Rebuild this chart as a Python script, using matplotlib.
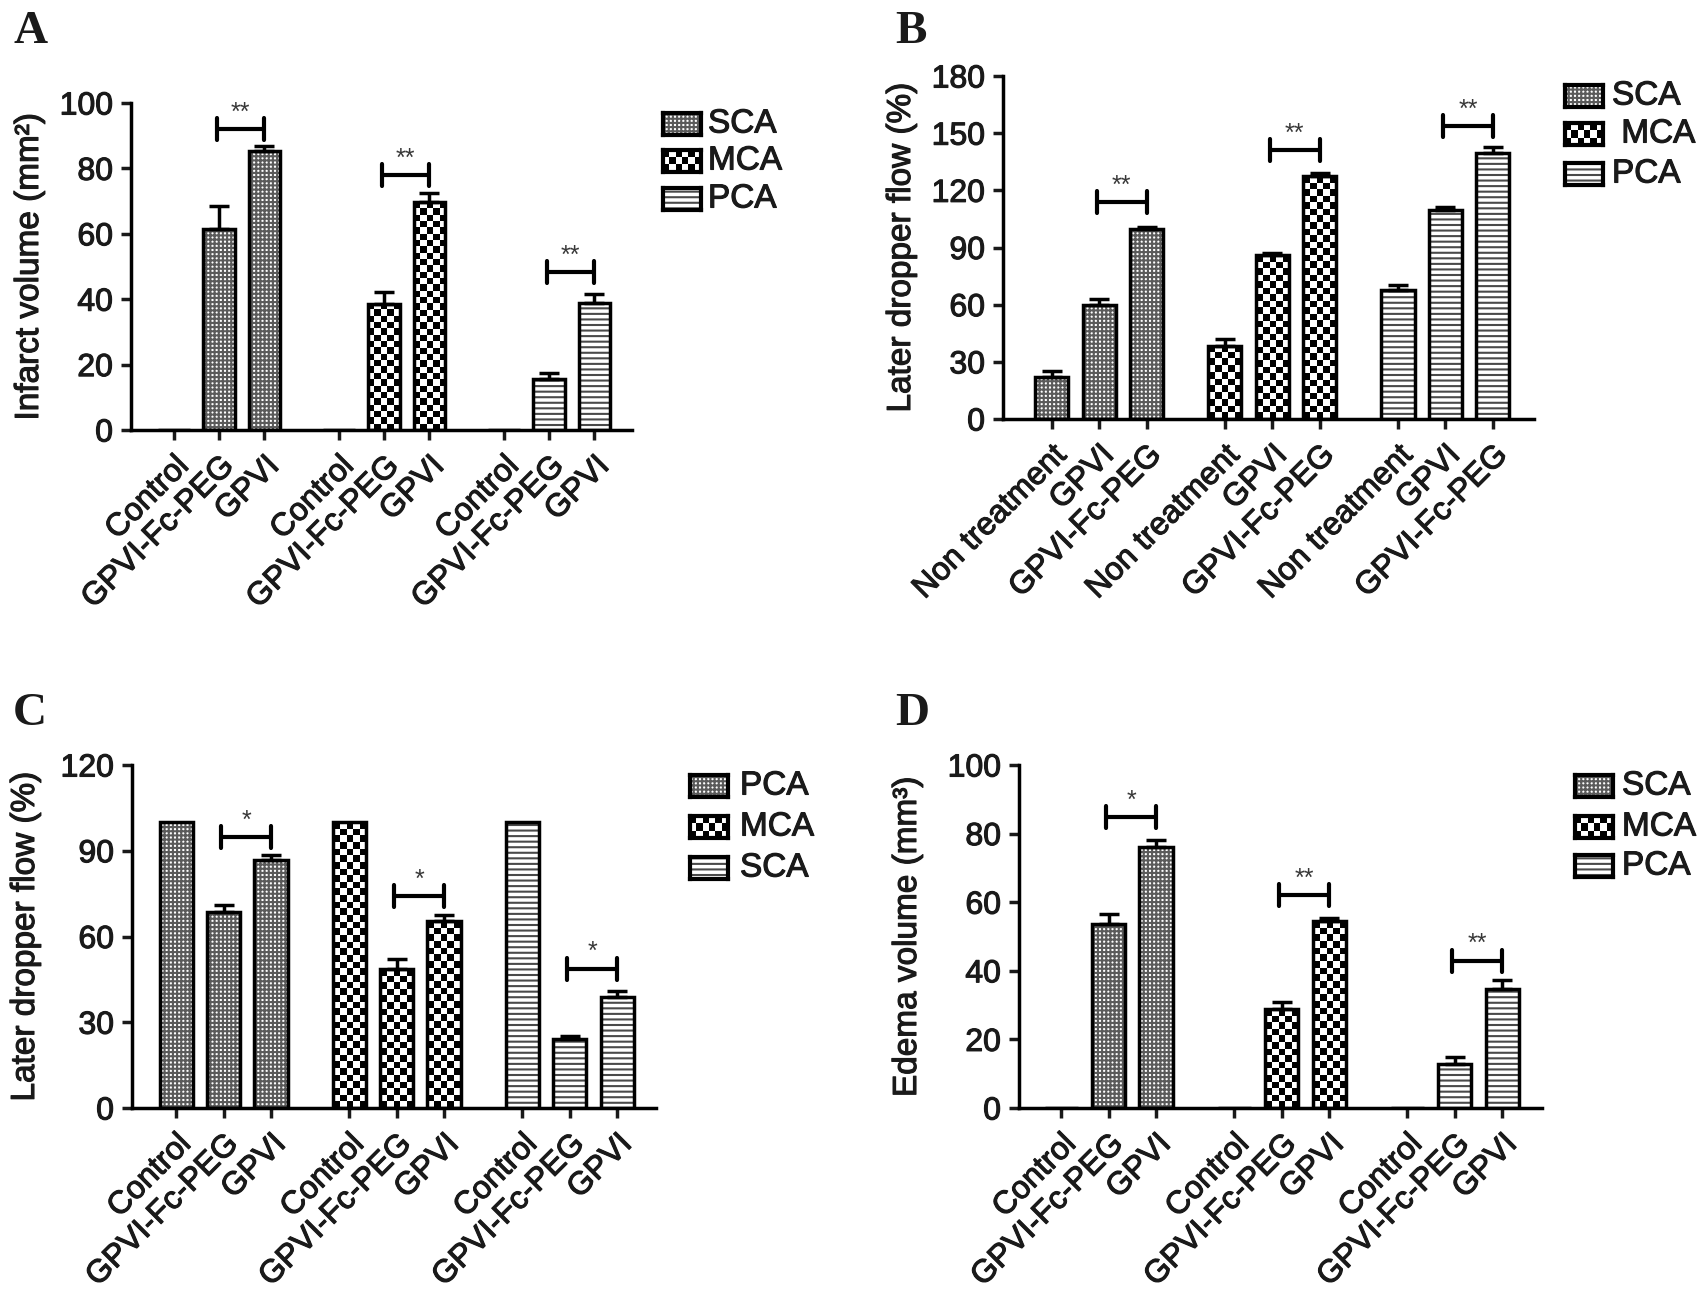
import numpy as np
import matplotlib
matplotlib.use('Agg')
import matplotlib.pyplot as plt
import matplotlib.patheffects as pe
from matplotlib.patches import Rectangle

# ---- data ----
labels_acd = ['Control', 'GPVI-Fc-PEG', 'GPVI']
labels_b = ['Non treatment', 'GPVI', 'GPVI-Fc-PEG']

# A: infarct volume (mm2)
a_sca = [0, 61.5, 85.2];   a_sca_err = [0, 7.0, 1.6]
a_mca = [0, 38.6, 69.7];   a_mca_err = [0, 3.6, 2.8]
a_pca = [0, 15.5, 38.8];   a_pca_err = [0, 1.9, 2.8]
a_sig_y = [92, 78, 48.3];  a_sig = ['**', '**', '**']

# B: later dropper flow (%)
b_sca = [22.3, 60.0, 99.5];   b_sca_err = [3.0, 3.0, 1.5]
b_mca = [38.5, 86.0, 127.5];  b_mca_err = [3.5, 1.2, 1.8]
b_pca = [67.5, 109.5, 139.5]; b_pca_err = [3.0, 1.5, 3.5]
b_sig_y = [114, 141, 154];    b_sig = ['**', '**', '**']

# C: later dropper flow (%), legend order PCA / MCA / SCA
c_pca = [100, 68.7, 86.6]; c_pca_err = [0, 2.2, 1.8]
c_mca = [100, 48.5, 65.4]; c_mca_err = [0, 3.5, 2.0]
c_sca = [100, 24.2, 39.0]; c_sca_err = [0, 1.0, 2.0]
c_sig_y = [94.7, 74, 48.8]; c_sig = ['*', '*', '*']

# D: edema volume (mm3)
d_sca = [0, 53.5, 76.0]; d_sca_err = [0, 3.0, 2.2]
d_mca = [0, 28.8, 54.4]; d_mca_err = [0, 2.2, 0.9]
d_pca = [0, 12.7, 34.6]; d_pca_err = [0, 2.1, 2.6]
d_sig_y = [84.8, 62.2, 43]; d_sig = ['*', '**', '**']

W, H = 1707, 1301
plt.rcParams['font.family'] = ['Liberation Sans', 'DejaVu Sans']
plt.rcParams['hatch.linewidth'] = 1.5
TXT = '#1a1a1a'
HEAVY = [pe.withStroke(linewidth=0.8, foreground=TXT)]
LW = 2.5
BW = 0.7
GSTEP = 3.65
FINE_C = '#5a5a5a'
STRIPE_C = '#4a4a4a'

fig = plt.figure(figsize=(W / 100, H / 100), dpi=100)


def px_axes(l, t, r, b):
    return fig.add_axes([l / W, 1 - b / H, (r - l) / W, (b - t) / H])


def fill_pattern(ax, x, vals, pattern, ppx, ppy):
    if pattern == 'fine':
        ax.bar(x, vals, BW, facecolor='white', edgecolor=FINE_C, hatch='++++', linewidth=0, zorder=2)
    elif pattern == 'stripe':
        ax.bar(x, vals, BW, facecolor='white', edgecolor=STRIPE_C, hatch='---', linewidth=0, zorder=2)
    else:
        for xi, v in zip(x, vals):
            if v <= 0:
                continue
            cols = 5
            cell = BW * ppx / cols
            rows = max(1, int(round(v * ppy / cell)))
            img = np.indices((rows, cols)).sum(axis=0) % 2
            ax.imshow(img, cmap='gray', vmin=0, vmax=1, aspect='auto', interpolation='nearest',
                      extent=(xi - BW / 2, xi + BW / 2, 0, v), zorder=2)
    ax.bar(x, vals, BW, facecolor='none', edgecolor='black', linewidth=LW, zorder=3)


def panel(rect, xlim, ymax, ystep, series, patterns, tick_labels, ylabel, label_dx, sig_y, sig):
    l, t, r, b = rect
    ax = px_axes(*rect)
    ppx = (r - l) / (xlim[1] - xlim[0])
    ppy = (b - t) / ymax
    ticks = []
    for g, ((vals, errs), pat) in enumerate(zip(series, patterns)):
        x = g * GSTEP + np.arange(3)
        vals = np.array(vals, float)
        errs = np.array(errs, float)
        ticks.extend(x)
        fill_pattern(ax, x, vals, pat, ppx, ppy)
        m = errs > 0
        ax.errorbar(x[m], vals[m], yerr=[np.zeros(m.sum()), errs[m]], fmt='none', ecolor='black',
                    elinewidth=LW, capsize=7, capthick=LW, zorder=4)
        # significance bracket
        x1, x2 = x[1] - 0.05, x[2]
        y = sig_y[g]
        cap = 11 / ppy
        ax.plot([x1, x2], [y, y], color='black', lw=3, solid_capstyle='butt', zorder=4)
        for xx in (x1, x2):
            ax.plot([xx, xx], [y - cap, y + cap], color='black', lw=3, solid_capstyle='round', zorder=4)
        ax.annotate(sig[g], xy=((x1 + x2) / 2, y), xytext=(0, 3), textcoords='offset points',
                    ha='center', va='bottom', fontsize=18, color='#383838')
    ax.set_xlim(*xlim)
    ax.set_ylim(0, ymax)
    ax.set_yticks(np.arange(0, ymax + 1, ystep))
    ax.set_xticks(ticks)
    ax.set_xticklabels(tick_labels * 3, rotation=45, ha='right', rotation_mode='anchor')
    for s in ('top', 'right'):
        ax.spines[s].set_visible(False)
    for s in ('left', 'bottom'):
        ax.spines[s].set_linewidth(LW)
    ax.tick_params(direction='out', length=7, width=LW, labelsize=23, pad=6, colors=TXT)
    ax.tick_params(axis='x', pad=8)
    for lab in ax.get_xticklabels() + ax.get_yticklabels():
        lab.set_path_effects(HEAVY)
    ax.set_ylabel(ylabel, fontsize=24, color=TXT, path_effects=HEAVY)
    ax.yaxis.set_label_coords(label_dx / (r - l), 0.5)
    return ax


def legend(x0, ys, names, patterns, text_x):
    w, h = 38, 22
    for yc, name, pat in zip(ys, names, patterns):
        sax = px_axes(x0, yc - h / 2, x0 + w, yc + h / 2)
        sax.set_xlim(0, 1)
        sax.set_ylim(0, 1)
        if pat == 'checker':
            img = np.indices((3, 6)).sum(axis=0) % 2
            sax.imshow(img, cmap='gray', vmin=0, vmax=1, aspect='auto', interpolation='nearest',
                       extent=(0, 1, 0, 1))
        else:
            hatch = '++++' if pat == 'fine' else '---'
            ec = FINE_C if pat == 'fine' else STRIPE_C
            sax.add_patch(Rectangle((0, 0), 1, 1, facecolor='white', edgecolor=ec, hatch=hatch, lw=0))
        sax.set_xticks([])
        sax.set_yticks([])
        for s in sax.spines.values():
            s.set_linewidth(3)
        fig.text(text_x / W, 1 - yc / H, name, fontsize=24, va='center', ha='left', color=TXT,
                 path_effects=HEAVY)


pats = ['fine', 'checker', 'stripe']

panel((131, 103, 632, 430), (-0.95, 10.13), 100, 20,
      [(a_sca, a_sca_err), (a_mca, a_mca_err), (a_pca, a_pca_err)], pats, labels_acd,
      'Infarct volume (mm²)', -86, a_sig_y, a_sig)
legend(663, [124, 161, 199], ['SCA', 'MCA', 'PCA'], pats, 708)

panel((1003, 76, 1534, 419), (-1.03, 10.17), 180, 30,
      [(b_sca, b_sca_err), (b_mca, b_mca_err), (b_pca, b_pca_err)], pats, labels_b,
      'Later dropper flow (%)', -86, b_sig_y, b_sig)
legend(1565, [96, 134, 174], ['SCA', ' MCA', 'PCA'], pats, 1612)

panel((132, 765, 656, 1108), (-0.93, 10.12), 120, 30,
      [(c_pca, c_pca_err), (c_mca, c_mca_err), (c_sca, c_sca_err)], pats, labels_acd,
      'Later dropper flow (%)', -91, c_sig_y, c_sig)
legend(690, [786, 827, 868], ['PCA', 'MCA', 'SCA'], pats, 740)

panel((1019, 765, 1542, 1108), (-0.89, 10.14), 100, 20,
      [(d_sca, d_sca_err), (d_mca, d_mca_err), (d_pca, d_pca_err)], pats, labels_acd,
      'Edema volume (mm³)', -96, d_sig_y, d_sig)
legend(1575, [786, 827, 866], ['SCA', 'MCA', 'PCA'], pats, 1622)

for letter, x, y in [('A', 13, 11), ('B', 895, 11), ('C', 13, 693), ('D', 895, 693)]:
    fig.text(x / W, 1 - y / H, letter, fontsize=34, fontweight='bold', va='top', ha='left',
             family=['Liberation Serif', 'DejaVu Serif'], color=TXT)

fig.savefig('out.png', dpi=100)
